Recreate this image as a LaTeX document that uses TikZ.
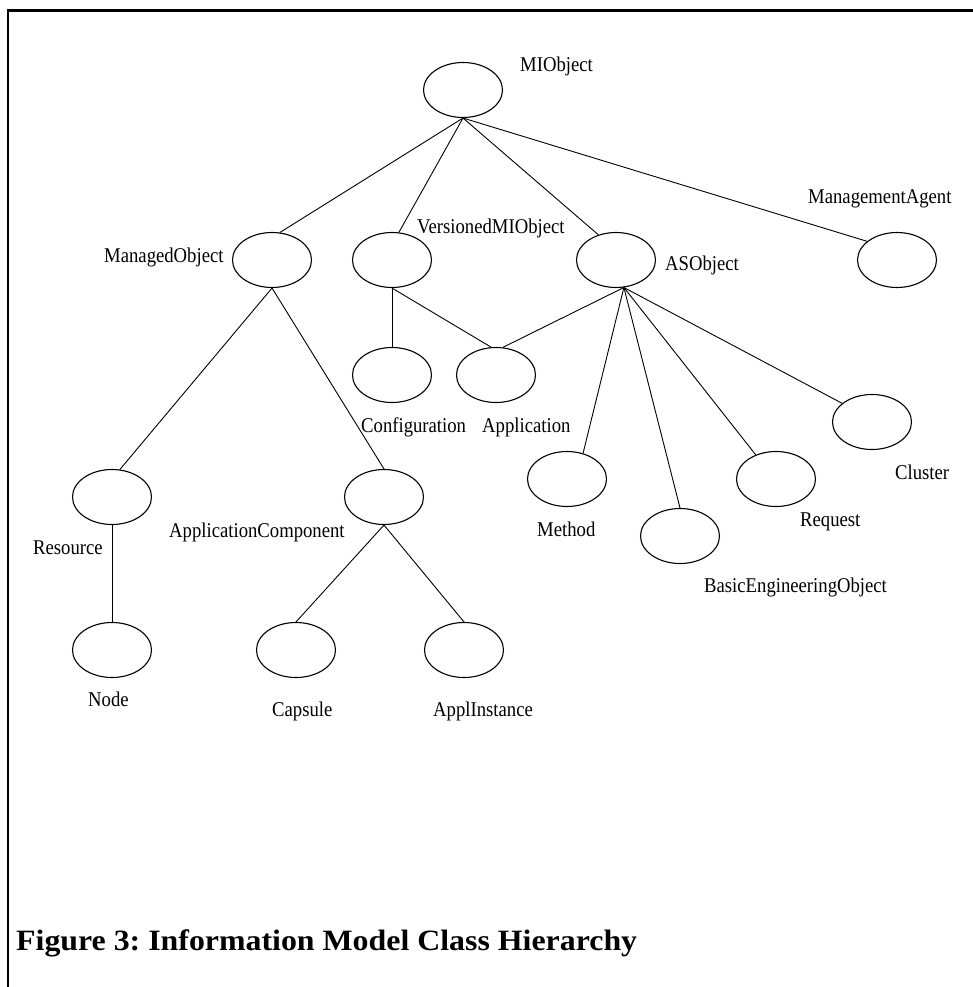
\documentclass[tikz,border=0pt]{standalone}
\usepackage{fontspec}
\setmainfont{Liberation Serif}
\newfontfamily\lblfont[FakeStretch=0.89]{Liberation Serif}
\newfontfamily\titlefont[FakeStretch=1.08]{Liberation Serif}
\usepackage{tikz}
\usetikzlibrary{shapes.geometric}
\frenchspacing
\tikzstyle{cls} = [ellipse, draw=black, line width=1.1pt, minimum width=79pt,
minimum height=55pt, inner sep=0pt]
\tikzstyle{lbl} = [inner sep=0pt, anchor=base west,
font=\lblfont\fontsize{21}{21}\selectfont]
\tikzstyle{link} = [line width=0.9pt]
\tikzstyle{frame} = [line width=2.2pt]

\begin{document}
\begin{tikzpicture}[x=1pt, y=-1pt]
\useasboundingbox (0,0) rectangle (973,987);
\draw[frame] (973,10.5) -- (7.7,10.5) -- (7.7,987);

\node(mi)[cls] at (463,90){};
\node(mo)[cls] at (272,260){};
\node(vmo)[cls] at (392,260){};
\node(aso)[cls] at (616,260){};
\node(ma)[cls] at (897,260){};
\node(conf)[cls] at (392,375){};
\node(app)[cls] at (496,375){};
\node(met)[cls] at (567,479){};
\node(beo)[cls] at (680,536){};
\node(req)[cls] at (776,479){};
\node(clu)[cls] at (872,422){};
\node(res)[cls] at (112,497){};
\node(ac)[cls] at (384,497){};
\node(nd)[cls] at (112,650){};
\node(cap)[cls] at (296,650){};
\node(ai)[cls] at (464,650){};

\node(milbl)[lbl] at (520,72){MIObject};
\node(molbl)[lbl] at (104,262){ManagedObject};
\node(vmolbl)[lbl] at (417,233){VersionedMIObject};
\node(asolbl)[lbl] at (665,270){ASObject};
\node(malbl)[lbl] at (808,204){ManagementAgent};
\node(conflbl)[lbl] at (361,432){Configuration};
\node(applbl)[lbl] at (482,432){Application};
\node(metlbl)[lbl] at (537,536){Method};
\node(beolbl)[lbl] at (704,592){BasicEngineeringObject};
\node(reqlbl)[lbl] at (800,526){Request};
\node(clulbl)[lbl] at (895,479){Cluster};
\node(reslbl)[lbl] at (33,554){Resource};
\node(aclbl)[lbl] at (169,537){ApplicationComponent};
\node(ndlbl)[lbl] at (88,706){Node};
\node(caplbl)[lbl] at (272,716){Capsule};
\node(ailbl)[lbl] at (433,716){ApplInstance};

\node(title)[inner sep=0pt, anchor=base west,
font=\titlefont\bfseries\fontsize{29.5}{29.5}\selectfont]
at (16,950){Figure 3: Information Model Class Hierarchy};

\draw[link](mi.south) -- (mo.74);
\draw[link](mi.south) -- (vmo.76);
\draw[link](mi.south) -- (aso.125);
\draw[link](mi.south) -- (ma.148);
\draw[link](mo.south) -- (res.74);
\draw[link](mo.south) -- (ac.north);
\draw[link](vmo.south) -- (conf.north);
\draw[link](vmo.south) -- (app.100);
\draw[link](aso.-74) -- (app.76);
\draw[link](aso.-74) -- (met.58);
\draw[link](aso.-74) -- (beo.north);
\draw[link](aso.-74) -- (req.130);
\draw[link](aso.-74) -- (clu.148);
\draw[link](res.south) -- (nd.north);
\draw[link](ac.south) -- (cap.north);
\draw[link](ac.south) -- (ai.north);

\end{tikzpicture}
\end{document}
